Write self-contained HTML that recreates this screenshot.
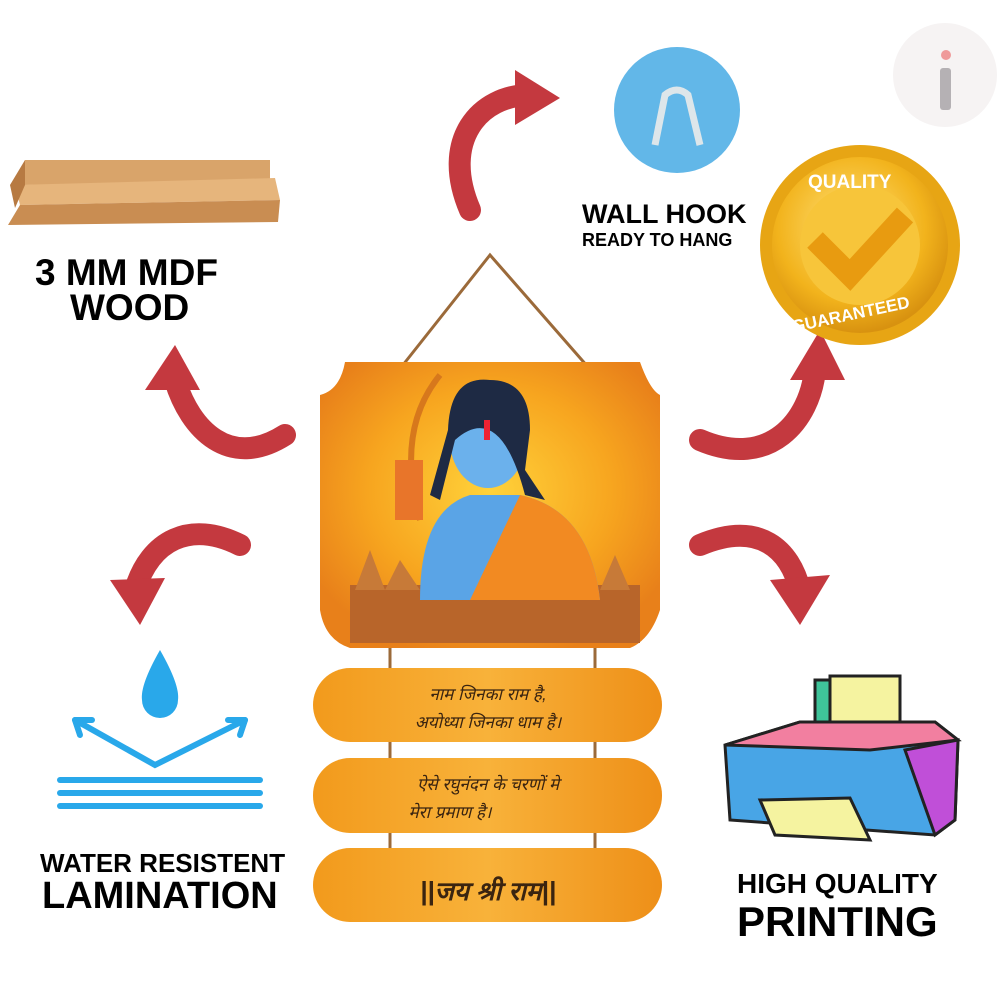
<!DOCTYPE html>
<html><head><meta charset="utf-8"><style>
html,body{margin:0;padding:0;background:#fff;}
svg{display:block;}
text{font-family:"Liberation Sans",sans-serif;font-weight:bold;fill:#000;}
</style></head><body>
<svg width="1000" height="1000" viewBox="0 0 1000 1000" xmlns="http://www.w3.org/2000/svg">
<defs>
<radialGradient id="og" cx="50%" cy="45%" r="60%"><stop offset="0" stop-color="#ffd23a"/><stop offset="0.6" stop-color="#f7a51f"/><stop offset="1" stop-color="#e8801a"/></radialGradient>
<linearGradient id="pl" x1="0" x2="1"><stop offset="0" stop-color="#f29a1c"/><stop offset="0.5" stop-color="#f8b23a"/><stop offset="1" stop-color="#ee8f18"/></linearGradient>
<radialGradient id="gold" cx="45%" cy="40%" r="60%"><stop offset="0" stop-color="#ffe27a"/><stop offset="0.7" stop-color="#f2b31c"/><stop offset="1" stop-color="#d89210"/></radialGradient>
</defs>

<circle cx="945" cy="75" r="52" fill="#f6f3f3"/>
<rect x="940" y="68" width="11" height="42" rx="3" fill="#b5b1b4"/>
<circle cx="946" cy="55" r="5" fill="#ef9a9a"/>

<polygon points="25,160 270,160 270,180 25,185" fill="#d9a46a"/>
<polygon points="15,185 275,178 280,200 20,205" fill="#e6b57c"/>
<polygon points="20,205 280,200 278,222 8,225" fill="#c98d52"/>
<polygon points="25,160 10,185 15,208 25,185" fill="#b77a42"/>
<text x="35" y="285" font-size="37">3 MM MDF</text>
<text x="70" y="320" font-size="37">WOOD</text>

<g fill="none" stroke="#c4393f" stroke-width="22" stroke-linecap="round">
<path d="M470,210 C440,140 480,95 530,95"/>
<path d="M285,435 C230,470 190,430 175,380"/>
<path d="M240,545 C190,520 150,540 135,590"/>
<path d="M700,440 C770,470 810,420 815,370"/>
<path d="M700,545 C760,520 790,550 800,590"/>
</g>
<g fill="#c4393f">
<polygon points="515,70 560,98 515,125"/>
<polygon points="145,390 175,345 200,390"/>
<polygon points="110,580 140,625 165,578"/>
<polygon points="790,380 820,330 845,380"/>
<polygon points="770,580 800,625 830,575"/>
</g>

<circle cx="677" cy="110" r="63" fill="#62b7e8"/>
<path d="M655,145 L665,95 Q677,85 688,95 L700,145" fill="none" stroke="#dde6ea" stroke-width="7"/>
<text x="582" y="223" font-size="27">WALL HOOK</text>
<text x="582" y="246" font-size="18">READY TO HANG</text>

<circle cx="860" cy="245" r="100" fill="#e7a514"/>
<circle cx="860" cy="245" r="88" fill="url(#gold)"/>
<circle cx="860" cy="245" r="60" fill="#f7c53a"/>
<path d="M815,240 L850,275 L905,215" fill="none" stroke="#e89b10" stroke-width="22"/>
<text x="808" y="188" font-size="19" style="fill:#fff">QUALITY</text>
<text x="790" y="318" font-size="17" style="fill:#fff" transform="rotate(-12 860 310)">GUARANTEED</text>

<path d="M395,375 L490,255 L595,375" fill="none" stroke="#9b6a3a" stroke-width="3"/>

<path d="M345,362 L640,362 Q650,390 660,395 L660,610 Q650,640 630,648 L350,648 Q325,640 320,610 L320,395 Q340,390 345,362 Z" fill="url(#og)"/>
<rect x="350" y="585" width="290" height="58" fill="#b8652a"/>
<path d="M355,590 L370,550 L385,590 L400,560 L420,590 L600,590 L615,555 L630,590 Z" fill="#c77a38"/>
<path d="M420,600 Q420,510 470,495 L520,495 Q590,510 600,600 Z" fill="#5aa4e6"/>
<path d="M470,600 L520,495 Q590,510 600,600 Z" fill="#f28a22"/>
<ellipse cx="488" cy="440" rx="38" ry="48" fill="#6bb1ec"/>
<path d="M448,430 Q450,375 490,380 Q530,380 530,430 L525,470 L545,500 L525,495 Q500,400 455,440 L440,500 L430,495 Z" fill="#1e2a44"/>
<rect x="484" y="420" width="6" height="20" fill="#e23" />
<path d="M440,375 Q395,430 420,520" fill="none" stroke="#d7781c" stroke-width="6"/>
<rect x="395" y="460" width="28" height="60" fill="#e8752a"/>

<g>
<rect x="313" y="668" width="349" height="74" rx="37" fill="url(#pl)"/>
<rect x="313" y="758" width="349" height="75" rx="37" fill="url(#pl)"/>
<rect x="313" y="848" width="349" height="74" rx="37" fill="url(#pl)"/>
<line x1="390" y1="648" x2="390" y2="668" stroke="#9b6a3a" stroke-width="3"/>
<line x1="595" y1="648" x2="595" y2="668" stroke="#9b6a3a" stroke-width="3"/>
<line x1="390" y1="742" x2="390" y2="758" stroke="#9b6a3a" stroke-width="3"/>
<line x1="595" y1="742" x2="595" y2="758" stroke="#9b6a3a" stroke-width="3"/>
<line x1="390" y1="833" x2="390" y2="848" stroke="#9b6a3a" stroke-width="3"/>
<line x1="595" y1="833" x2="595" y2="848" stroke="#9b6a3a" stroke-width="3"/>
<text x="488" y="700" font-size="17" text-anchor="middle" style="font-weight:normal;fill:#3a2410;font-style:italic">नाम जिनका राम है,</text>
<text x="488" y="728" font-size="17" text-anchor="middle" style="font-weight:normal;fill:#3a2410;font-style:italic">अयोध्या जिनका धाम है।</text>
<text x="488" y="790" font-size="17" text-anchor="middle" style="font-weight:normal;fill:#3a2410;font-style:italic">ऐसे रघुनंदन के चरणों मे</text>
<text x="450" y="818" font-size="17" text-anchor="middle" style="font-weight:normal;fill:#3a2410;font-style:italic">मेरा प्रमाण है।</text>
<text x="488" y="900" font-size="26" text-anchor="middle" style="fill:#3a2410;font-style:italic">||जय श्री राम||</text>
</g>

<path d="M160,650 Q140,685 142,700 A18,18 0 0 0 178,700 Q180,685 160,650 Z" fill="#29a8ea"/>
<g stroke="#29a8ea" stroke-width="6" fill="none" stroke-linecap="round">
<path d="M75,720 L155,765 L245,720"/>
<path d="M75,720 L92,720 M75,720 L80,735"/>
<path d="M245,720 L228,720 M245,720 L240,735"/>
<line x1="60" y1="780" x2="260" y2="780"/>
<line x1="60" y1="793" x2="260" y2="793"/>
<line x1="60" y1="806" x2="260" y2="806"/>
</g>
<text x="40" y="872" font-size="26">WATER RESISTENT</text>
<text x="42" y="908" font-size="38">LAMINATION</text>

<rect x="815" y="680" width="65" height="50" fill="#3fc49a" stroke="#222" stroke-width="3"/>
<rect x="830" y="676" width="70" height="58" fill="#f5f3a0" stroke="#222" stroke-width="3"/>
<path d="M725,745 L800,722 L935,722 L958,740 L955,820 L935,835 L730,820 Z" fill="#48a5e6" stroke="#222" stroke-width="3"/>
<path d="M725,745 L800,722 L935,722 L958,740 L870,750 Z" fill="#f27fa0" stroke="#222" stroke-width="3"/>
<path d="M905,750 L958,740 L955,820 L935,835 Z" fill="#c04fd8" stroke="#222" stroke-width="3"/>
<path d="M760,800 L850,798 L870,840 L775,835 Z" fill="#f5f3a0" stroke="#222" stroke-width="3"/>
<text x="737" y="893" font-size="28">HIGH QUALITY</text>
<text x="737" y="936" font-size="42">PRINTING</text>
</svg>
</body></html>
